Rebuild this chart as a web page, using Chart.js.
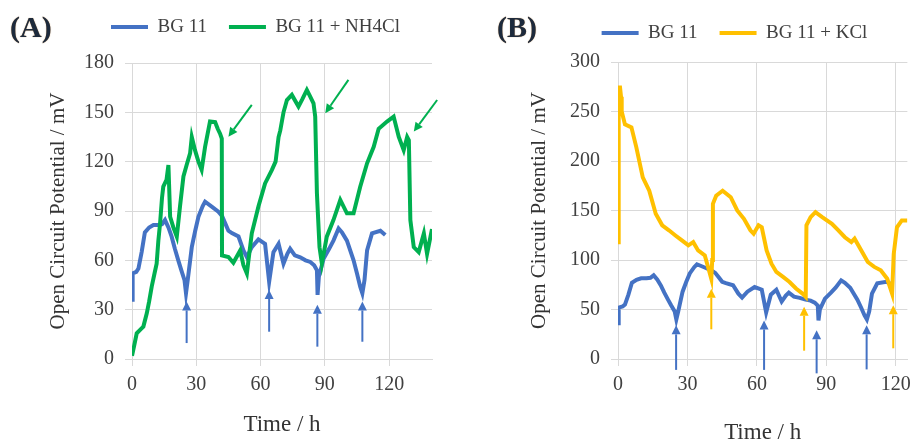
<!DOCTYPE html>
<html>
<head>
<meta charset="utf-8">
<title>Open circuit potential</title>
<script src="https://cdn.jsdelivr.net/npm/chart.js@4.4.1/dist/chart.umd.min.js"></script>
<style>
  html, body { margin: 0; padding: 0; background: #fff; overflow: hidden; }
  #wrap { position: relative; width: 918px; height: 444px; }
  #wrap canvas { position: absolute; top: 0; }
  #chartA { left: 0; }
  #chartB { left: 459px; }
  .tag { position: absolute; top: 10px; line-height: 1; font: bold 30px "Liberation Serif", serif; color: #1d2a3c; text-shadow: 0 0 1px #b8864e; }
</style>
</head>
<body>
<div id="wrap">
  <canvas id="chartA" width="459" height="444"></canvas>
  <canvas id="chartB" width="459" height="444"></canvas>
  <div class="tag" style="left:10px">(A)</div>
  <div class="tag" style="left:497px">(B)</div>
</div>
<script>
// values (time in h, potential in mV)
// BG 11 control is the same run in both panels
const bg11Time = [0,0.3,2,3,4.5,6,8,10,12.3,14,15.4,17,18.5,20,21.6,23,24.5,25.2,26,27.9,29.5,31,33,34.1,37.2,40.3,42,43.5,45,46.6,49.7,52,53.6,55.9,59,62.1,64,66,68.4,70.7,72.5,73.8,76,78.5,81,83.2,85,86.3,86.6,87.2,89.4,92,94,96.4,98,100.3,103.4,105,106.5,107.5,108.5,109.7,112,115.9,118.2];
const bg11Mv   = [36,52,53,55,65,77,80,81.5,81.5,82,84.5,80,74.4,67,60,54,48,40,48,68,78,86.5,93,95.7,92.7,89.6,87,82.5,78,76.6,74.5,66,62,68,72.7,70,47,65,70,58,64,67,63,61.8,60,59,57,54,39,50,61,67,72,79.4,77,72,60,52,44,40,48,66,76.4,78,75.4];

const nh4clTime = [0,1,2.2,4,5.3,6.9,8,9.2,10.5,11.5,12.3,13.1,14,14.6,16.1,17,17.8,19.3,20.9,22.4,24,25.5,27.1,27.9,29.4,31,32.5,34.1,36.4,38.8,40,41.1,41.9,42,45,47.3,50.5,52,53.6,55.9,59,62.1,65.3,67,68.4,69.2,70.7,72.3,74.6,77.7,79.5,81.6,83,84.7,85.5,86.3,87.5,88.6,90.9,94,97.2,100.3,103.4,106.5,109.7,112.8,115.1,119,122.1,124.5,126.8,128.4,129.2,129.9,131.5,133.8,136.2,137.7,140];
const nh4clMv   = [2,8,15.6,18,19.7,27.8,35,44,52,58,72,82.5,98,104.8,108.9,118,86.5,80,74.4,92.7,111,118,125,135,127,120,115,129,144.4,144,140,137,134,63,62,58.5,66,57,52,76.4,92.7,106.8,115,120,135,139,150,157.5,160.6,153.5,158,163.6,160,155.5,147.4,100.7,68,58,74.4,84.5,96.7,88.6,88.6,104.8,119,129,140,144.4,147.4,135,127,135,133,84.5,68,65,76.4,64,79];

const kclTime = [0,0.2,0.4,0.8,1.3,1.6,3,5.8,7.9,10.7,13.5,16.3,19.1,22,24.8,27.6,30.4,32.5,34.6,37.5,38.9,40.3,40.7,41,42.4,45.2,48.7,51.5,54.4,57.2,58.6,60.7,62.1,64.2,66.3,68.4,71.3,74.1,76.9,79.7,81.1,81.4,83.2,85.3,88.2,92.4,95.2,98,100.8,102.2,105.1,107.9,110.7,113.5,116.3,118.4,119.1,120.5,122.6,125];
const kclMv   = [118,200,260,276,265,250,237,234,214,183.5,170,146.7,135,130,124.8,119.8,114.8,118,109.7,104.7,93,81,100,156.8,165,170,163.4,150,141.6,130,126.5,135,133,109.7,96.3,87.9,82.9,77.8,71.2,66.1,62.7,135,143.3,148.3,143.3,136.6,130,123,118,121.5,109.7,98,93,89.6,81,66,106,133,140,140];

// arrows (tail -> head, in data units)
const bgArrowA_tail = [[25.5,9.7],[64,16.6],[86.5,7.5],[107.5,10.5]];
const bgArrowA_head = [[25.5,35],[64,42],[86.5,33],[107.5,35]];
const nhArrow_tail  = [[55.9,154.5],[101,169.7],[142.4,157.5]];
const nhArrow_head  = [[45,135.2],[90.2,149.5],[131.5,138.3]];
const bgArrowB_tail = [[25.1,-11],[63.1,-11],[85.8,-14.5],[107.4,-10.5]];
const bgArrowB_head = [[25.1,34],[63.1,39],[85.8,29],[107.4,34]];
const kArrow_tail   = [[40.3,30],[80.4,8.4],[118.9,10.8]];
const kArrow_head   = [[40.3,71],[80.4,52.7],[118.9,54.4]];

const xTicksA = [0, 140, 30];   // min, max, step
const yTicksA = [0, 180, 30];
const xTicksB = [0, 125, 30];
const yTicksB = [0, 300, 50];

const BLUE = '#4472C4', GREEN = '#00B050', GOLD = '#FFC000';
const SERIF = '"Liberation Serif", "Times New Roman", serif';
const INK = '#404040';
const GRID = '#d9d9d9';

const pts = (t, v) => t.map((h, i) => ({x: h, y: v[i]}));

// legend sits a bit off-centre in the original, just slide it over
function nudgeLegend(dx, dy) {
  return {
    id: 'nudgeLegend',
    afterLayout(chart) {
      const lg = chart.legend;
      if (!lg) return;
      lg.left += dx; lg.right += dx;
      lg.top += dy; lg.bottom += dy;
    }
  };
}

// the little marker arrows, drawn through the chart scales
function arrowMarks(sets) {
  return {
    id: 'arrowMarks',
    afterDatasetsDraw(chart) {
      const {ctx, scales: {x, y}} = chart;
      sets.forEach(set => {
        ctx.save();
        ctx.strokeStyle = set.color;
        ctx.fillStyle = set.color;
        ctx.lineWidth = 2;
        set.tail.forEach((t, i) => {
          const h = set.head[i];
          const x0 = x.getPixelForValue(t[0]), y0 = y.getPixelForValue(t[1]);
          const x1 = x.getPixelForValue(h[0]), y1 = y.getPixelForValue(h[1]);
          const a = Math.atan2(y1 - y0, x1 - x0);
          const len = 9, w = 4.5;
          const bx = x1 - len * Math.cos(a), by = y1 - len * Math.sin(a);
          ctx.beginPath();
          ctx.moveTo(x0, y0);
          ctx.lineTo(bx, by);
          ctx.stroke();
          ctx.beginPath();
          ctx.moveTo(x1, y1);
          ctx.lineTo(bx + w * Math.sin(a), by - w * Math.cos(a));
          ctx.lineTo(bx - w * Math.sin(a), by + w * Math.cos(a));
          ctx.closePath();
          ctx.fill();
        });
        ctx.restore();
      });
    }
  };
}

function line(label, t, v, color, order) {
  return {
    label: label,
    data: pts(t, v),
    borderColor: color,
    backgroundColor: color,
    borderWidth: 4,
    pointRadius: 0,
    tension: 0,
    order: order
  };
}

function panel(id, o) {
  return new Chart(document.getElementById(id), {
    type: 'line',
    data: { datasets: o.datasets },
    plugins: [nudgeLegend(o.legendDx, o.legendDy), arrowMarks(o.marks)],
    options: {
      responsive: false,
      animation: false,
      devicePixelRatio: 1,
      events: [],
      layout: { padding: { top: o.padTop, right: o.padRight, left: 0, bottom: 0 } },
      plugins: {
        tooltip: { enabled: false },
        legend: {
          labels: {
            font: { family: SERIF, size: 19 },
            color: INK,
            boxWidth: 37,
            boxHeight: 0,
            padding: 22,
            sort: (a, b) => a.datasetIndex - b.datasetIndex
          }
        }
      },
      scales: {
        x: {
          type: 'linear',
          min: o.xTicks[0], max: o.xTicks[1],
          afterFit: s => { s.height = 85; },
          grid: { color: GRID, tickLength: 7 },
          border: { color: GRID },
          ticks: { stepSize: o.xTicks[2], includeBounds: false, padding: 7, color: INK, font: { family: SERIF, size: 20 } },
          title: { display: true, text: 'Time / h', color: '#333', font: { family: SERIF, size: 23, lineHeight: 1 }, padding: { top: 0, bottom: o.xTitlePad } }
        },
        y: {
          min: o.yTicks[0], max: o.yTicks[1],
          afterFit: s => { s.width = o.yWidth; },
          grid: { color: GRID, tickLength: 7 },
          border: { color: GRID },
          ticks: { stepSize: o.yTicks[2], padding: 11, color: INK, font: { family: SERIF, size: 20 } },
          title: { display: true, text: 'Open Circuit Potential / mV', color: '#333', font: { family: SERIF, size: 21, lineHeight: 1 }, padding: { top: o.yTitlePad, bottom: 0 } }
        }
      }
    }
  });
}

// (A) ammonium chloride
panel('chartA', {
  datasets: [
    line('BG 11', bg11Time, bg11Mv, BLUE, 1),
    line('BG 11 + NH4Cl', nh4clTime, nh4clMv, GREEN, 0)
  ],
  marks: [
    { color: BLUE, tail: bgArrowA_tail, head: bgArrowA_head },
    { color: GREEN, tail: nhArrow_tail, head: nhArrow_head }
  ],
  xTicks: xTicksA, yTicks: yTicksA,
  padTop: 12, padRight: 27, yWidth: 132,
  xTitlePad: 7.5, yTitlePad: 47.5,
  legendDx: 39.5, legendDy: -16.5
});

// (B) potassium chloride
panel('chartB', {
  datasets: [
    line('BG 11', bg11Time, bg11Mv, BLUE, 1),
    line('BG 11 + KCl', kclTime, kclMv, GOLD, 0)
  ],
  marks: [
    { color: BLUE, tail: bgArrowB_tail, head: bgArrowB_head },
    { color: GOLD, tail: kArrow_tail, head: kArrow_head }
  ],
  xTicks: xTicksB, yTicks: yTicksB,
  padTop: 11, padRight: 5, yWidth: 159,
  xTitlePad: 0, yTitlePad: 69.5,
  legendDx: 48.5, legendDy: -9.5
});
</script>
</body>
</html>
